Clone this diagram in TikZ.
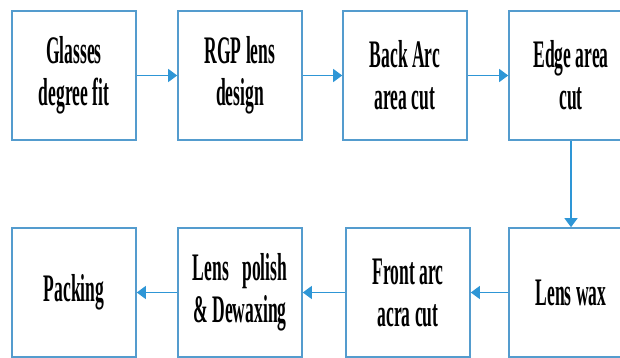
\documentclass[tikz,border=0pt]{standalone}
\usepackage{fontspec}
\setmainfont{Liberation Serif}[FakeStretch=0.45]
\usetikzlibrary{arrows.meta}

\definecolor{boxblue}{RGB}{84,156,206}
\definecolor{arrowblue}{RGB}{46,150,214}

\begin{document}
\begin{tikzpicture}[x=1pt,y=-1pt,
	stepbox/.style={draw=boxblue,line width=1.6pt,minimum width=124pt,minimum height=129pt,
		inner sep=0pt,align=center,font=\fontsize{39}{42}\selectfont\bfseries},
	flow/.style={draw=arrowblue,line width=1.2pt,-{Triangle[length=9pt,width=13pt]}}]
	\useasboundingbox (0,0) rectangle (620,358);
	\clip (0,0) rectangle (620,358);
	% top row
	\foreach \name/\xpos/\txt in {glass/74/{Glasses\\degree fit}, rgp/240/{RGP lens\\design},
		back/405/{Back Arc\\area cut}, edge/571/{Edge area\\cut}} {
		\node[stepbox] (\name) at (\xpos,75.5) {\txt};
	}
	% bottom row
	\foreach \name/\xpos/\txt in {pack/74/{Packing}, polish/240/{Lens\hspace{9pt} polish\\\& Dewaxing},
		front/408/{Front arc\\acra cut}, wax/571/{Lens wax}} {
		\node[stepbox] (\name) at (\xpos,292.5) {\txt};
	}
	\foreach \a/\b in {glass/rgp, rgp/back, back/edge, edge/wax, wax/front, front/polish, polish/pack}
		\draw[flow] (\a) -- (\b);
\end{tikzpicture}
\end{document}
